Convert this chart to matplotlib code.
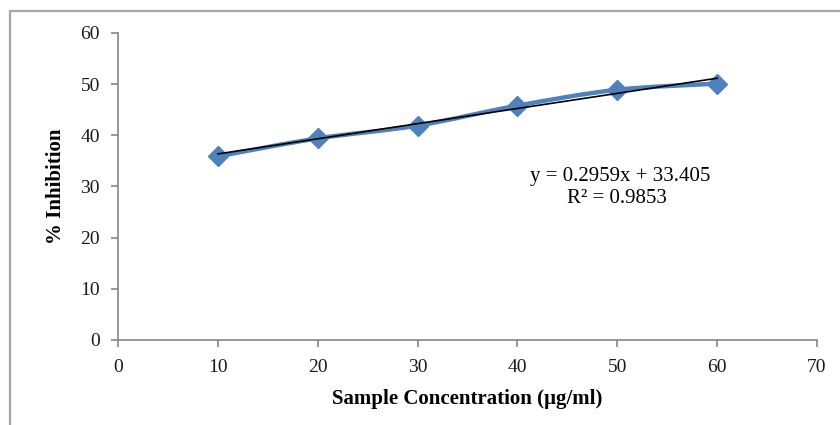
import matplotlib.pyplot as plt
import numpy as np
from matplotlib.patches import PathPatch, Rectangle
from matplotlib.path import Path

# data
conc = [10, 20, 30, 40, 50, 60]
inhibition = [35.9, 39.4, 41.9, 45.8, 48.9, 50.1]
slope = 0.2959
intercept = 33.405
r_squared = 0.9853

BLUE = "#4F81BD"
GREY = "#868686"


def smooth_path(xs, ys):
    # Excel-style smoothed line as cubic Bezier segments (Catmull-Rom control points)
    pts = np.column_stack([xs, ys]).astype(float)
    padded = np.vstack([pts[0], pts, pts[-1]])
    verts = [pts[0]]
    codes = [Path.MOVETO]
    for i in range(1, len(padded) - 2):
        p0, p1, p2, p3 = padded[i - 1], padded[i], padded[i + 1], padded[i + 2]
        verts += [p1 + (p2 - p0) / 6, p2 - (p3 - p1) / 6, p2]
        codes += [Path.CURVE4] * 3
    return Path(verts, codes)


def main() -> None:
    plt.rcParams["font.family"] = ["Liberation Serif", "DejaVu Serif"]

    fig = plt.figure(figsize=(8.4, 4.25), dpi=100)
    ax = fig.add_axes([0.1405, 0.2, 0.8321, 0.7224])

    # outer chart-area border (only top and left are visible in the crop)
    fig.patches.append(Rectangle((0.012, -0.1), 1.2, 0.1 + 0.974, transform=fig.transFigure,
                                 fill=False, edgecolor="#A6A6A6", linewidth=1.6))

    ax.add_patch(PathPatch(smooth_path(conc, inhibition), facecolor="none",
                           edgecolor=BLUE, linewidth=3.2, capstyle="round", zorder=2))
    ax.plot(conc, inhibition, linestyle="none", marker="D", markersize=10.5,
            color=BLUE, zorder=3)

    xt = np.array([conc[0], conc[-1]])
    ax.plot(xt, slope * xt + intercept, color="black", linewidth=1.2, zorder=4)

    ax.text(50.3, 32.0, f"y = {slope}x + {intercept}", fontsize=15, ha="center", va="center")
    ax.text(50.0, 27.7, f"R² = {r_squared}", fontsize=15, ha="center", va="center")

    ax.set_xlim(0, 70)
    ax.set_ylim(0, 60)
    ax.set_xticks(range(0, 71, 10))
    ax.set_yticks(range(0, 61, 10))
    for side in ("top", "right"):
        ax.spines[side].set_visible(False)
    for side in ("left", "bottom"):
        ax.spines[side].set_color(GREY)
        ax.spines[side].set_linewidth(1.2)
    ax.tick_params(direction="out", length=5, width=1.2, color=GREY,
                   labelsize=14, labelcolor="#1a1a1a")
    ax.tick_params(axis="x", pad=9)
    ax.tick_params(axis="y", pad=8)

    ax.set_xlabel("Sample Concentration (µg/ml)", fontsize=15, fontweight="bold", labelpad=9)
    ax.set_ylabel("% Inhibition", fontsize=15, fontweight="bold", labelpad=10)

    fig.savefig("out.png", dpi=100)
    plt.close(fig)


if __name__ == "__main__":
    main()
